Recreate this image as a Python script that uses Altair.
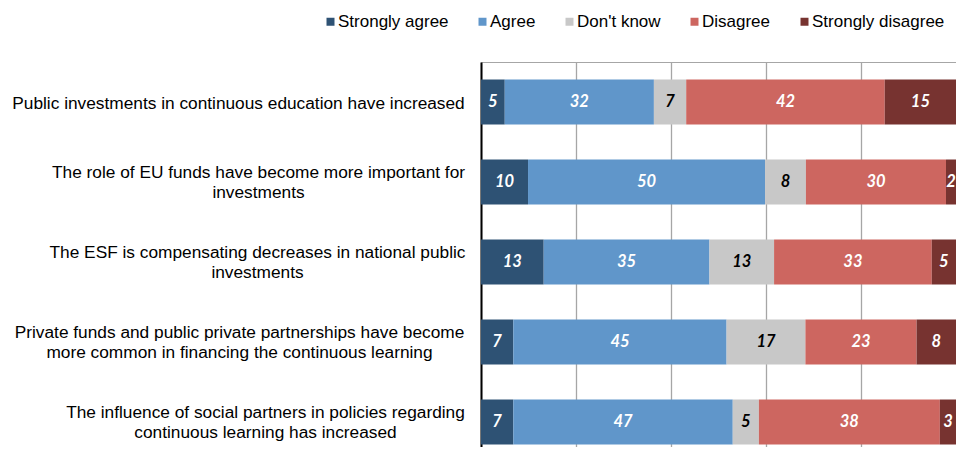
import altair as alt
import pandas as pd

statements = [
    "Public investments in continuous education have increased",
    "The role of EU funds have become more important for\ninvestments",
    "The ESF is compensating decreases in national public\ninvestments",
    "Private funds and public private partnerships have become\nmore common in financing the continuous learning",
    "The influence of social partners in policies regarding\ncontinuous learning has increased",
]
responses = ["Strongly agree", "Agree", "Don't know", "Disagree", "Strongly disagree"]
colors = ["#2E5274", "#6096CA", "#C8C8C8", "#CD6660", "#773330"]

# segment widths (%)
strongly_agree = [5.0, 9.9, 13.2, 6.8, 6.8]
agree = [31.4, 49.9, 34.9, 44.9, 46.2]
dont_know = [6.8, 8.6, 13.6, 16.6, 5.5]
disagree = [41.8, 29.5, 33.2, 23.4, 38.1]
strongly_disagree = [15.0, 2.1, 5.1, 8.3, 3.4]

# printed labels
lab_strongly_agree = [5, 10, 13, 7, 7]
lab_agree = [32, 50, 35, 45, 47]
lab_dont_know = [7, 8, 13, 17, 5]
lab_disagree = [42, 30, 33, 23, 38]
lab_strongly_disagree = [15, 2, 5, 8, 3]

series = [strongly_agree, agree, dont_know, disagree, strongly_disagree]
labels = [lab_strongly_agree, lab_agree, lab_dont_know, lab_disagree, lab_strongly_disagree]

rows = []
for ri, (resp, vals, labs) in enumerate(zip(responses, series, labels)):
    for s, v, l in zip(statements, vals, labs):
        rows.append({"statement": s, "response": resp, "order": ri, "value": v, "label": str(l)})
df = pd.DataFrame(rows)

yscale = alt.Scale(domain=statements, range=[0, 400], paddingInner=0.4375, paddingOuter=0.21875)

pad_cond = {
    "condition": [
        {"test": "indexof(datum.value, 'Public') == 0", "value": 243},
        {"test": "indexof(datum.value, 'The role') == 0", "value": 223},
        {"test": "indexof(datum.value, 'The ESF') == 0", "value": 224},
        {"test": "indexof(datum.value, 'Private') == 0", "value": 242},
    ],
    "value": 216,
}
offset_cond = {
    "condition": {"test": "indexof(datum.value, 'Public') == 0", "value": 2},
    "value": -9,
}

base = alt.Chart(df).transform_stack(
    stack="value", as_=["x0", "x1"], groupby=["statement"], sort=[alt.SortField("order")]
).transform_calculate(
    mid="(datum.x0 + datum.x1) / 2"
)

bars = base.mark_bar().encode(
    y=alt.Y(
        "statement:N",
        scale=yscale,
        sort=statements,
        axis=alt.Axis(
            title=None,
            ticks=False,
            tickSize=0,
            domainColor="#000000",
            domainWidth=2,
            grid=False,
            labelAlign="center",
            labelBaseline="middle",
            labelPadding=pad_cond,
            labelOffset=offset_cond,
            labelFont="Liberation Sans",
            labelFontSize=17.3,
            labelLineHeight=20,
            labelColor="#000000",
            labelLimit=1000,
            labelExpr="split(datum.label, '\\n')",
        ),
    ),
    x=alt.X(
        "x0:Q",
        scale=alt.Scale(domain=[0, 100], nice=False),
        axis=alt.Axis(
            orient="top",
            title=None,
            labels=False,
            ticks=False,
            values=[0, 20, 40, 60, 80],
            domainColor="#A6A6A6",
            domainWidth=1,
            grid=True,
            gridColor="#A6A6A6",
            gridWidth=1.3,
        ),
    ),
    x2="x1:Q",
    color=alt.Color(
        "response:N",
        scale=alt.Scale(domain=responses, range=colors),
        legend=alt.Legend(
            title=None,
            orient="none",
            legendX=-159,
            legendY=-49,
            direction="horizontal",
            symbolType="square",
            symbolSize=64,
            symbolStrokeWidth=0,
            labelFont="Liberation Sans",
            labelFontSize=17,
            labelColor="#000000",
            labelOffset={"expr": "-1"},
            columnPadding=25,
            padding=0,
        ),
    ),
)

text = base.mark_text(
    font="Lato", fontSize=16.5, fontWeight="bold", fontStyle="italic", baseline="middle", align="center"
).encode(
    y=alt.Y("statement:N", scale=yscale, sort=statements),
    x=alt.X("mid:Q"),
    text="label:N",
    color=alt.condition(alt.datum.response == "Don't know", alt.value("#000000"), alt.value("#FFFFFF")),
)

chart = alt.layer(bars, text).properties(
    width=475,
    height=385,
    autosize=alt.AutoSizeParams(type="none"),
    padding={"left": 473, "top": 54, "right": 0, "bottom": 0},
    background="#FFFFFF",
).configure_view(stroke=None)

chart.save("out.html", embed_options={"renderer": "svg", "actions": False})
